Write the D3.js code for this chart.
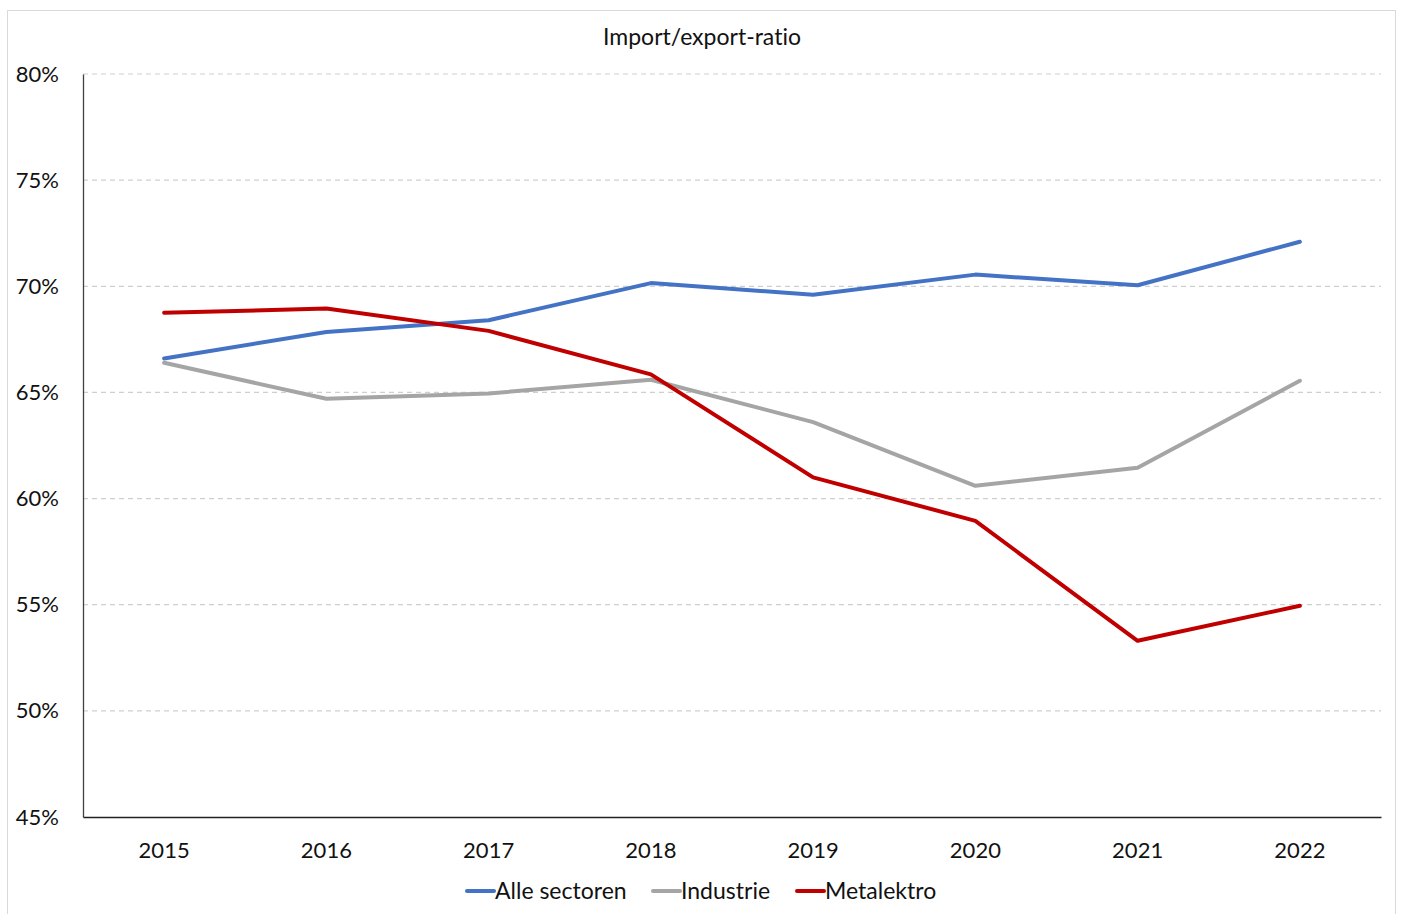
<!DOCTYPE html>
<html lang="nl">
<head>
  <meta charset="UTF-8">
  <title>Import/export-ratio</title>
  <style>
    body { margin: 0; background: #fff; }
    svg text { font-family: Lato, "Noto Sans", sans-serif; fill: #111; font-variant-ligatures: none; }
  </style>
</head>
<body>
  <svg id="svg" width="1402" height="914"></svg>

  <script src="https://d3js.org/d3.v7.min.js"></script>
  <script>
    const years = ['2015', '2016', '2017', '2018', '2019', '2020', '2021', '2022']
    const alleSectoren = [66.6, 67.85, 68.4, 70.15, 69.6, 70.55, 70.05, 72.1]
    const industrie = [66.4, 64.7, 64.95, 65.6, 63.6, 60.6, 61.45, 65.55]
    const metalektro = [68.75, 68.95, 67.9, 65.85, 61.0, 58.95, 53.3, 54.95]
    const yTicks = [45, 50, 55, 60, 65, 70, 75, 80]

    const series = [
      { name: 'Alle sectoren', values: alleSectoren, color: '#4472c4' },
      { name: 'Industrie', values: industrie, color: '#a5a5a5' },
      { name: 'Metalektro', values: metalektro, color: '#c00000' }
    ]

    const svg = d3.select('#svg')

    // outer frame
    svg.append('rect')
      .attr('x', 7.5).attr('y', 10.5)
      .attr('width', 1388).attr('height', 920)
      .attr('fill', 'none')
      .attr('stroke', '#d9d9d9')

    const plotLeft = 83, plotRight = 1381, plotTop = 74, plotBottom = 817

    const xScale = d3.scaleBand()
      .domain(years)
      .range([plotLeft, plotRight])

    const yScale = d3.scaleLinear()
      .domain([45, 80])
      .range([plotBottom, plotTop])

    // gridlines
    svg.append('g')
      .selectAll('line')
      .data(yTicks.filter(d => d > 45))
      .enter()
      .append('line')
      .attr('x1', plotLeft).attr('x2', plotRight)
      .attr('y1', d => yScale(d)).attr('y2', d => yScale(d))
      .attr('stroke', '#cfcfcf')
      .attr('stroke-width', 1.2)
      .attr('stroke-dasharray', '5,4')

    // y axis
    const yAxis = svg.append('g')
      .attr('transform', `translate(${plotLeft},0)`)
      .call(d3.axisLeft(yScale).tickValues(yTicks).tickSize(0).tickFormat(d => d + '%'))
    yAxis.select('.domain').attr('stroke', '#404040').attr('stroke-width', 1.3)
    yAxis.selectAll('text')
      .attr('x', -24)
      .style('font-size', '22px')
      .style('fill', '#111')

    // x axis
    const xAxis = svg.append('g')
      .attr('transform', `translate(0,${plotBottom})`)
      .call(d3.axisBottom(xScale).tickSize(0))
    xAxis.select('.domain').attr('stroke', '#222').attr('stroke-width', 1.3)
    xAxis.selectAll('text')
      .attr('dy', '0')
      .attr('y', 41)
      .style('font-size', '22px')
      .style('fill', '#111')

    // lines
    const line = d3.line()
      .x((d, i) => xScale(years[i]) + xScale.bandwidth() / 2)
      .y(d => yScale(d))

    svg.append('g')
      .selectAll('path')
      .data(series)
      .enter()
      .append('path')
      .attr('d', d => line(d.values))
      .attr('fill', 'none')
      .attr('stroke', d => d.color)
      .attr('stroke-width', 4)
      .attr('stroke-linecap', 'round')
      .attr('stroke-linejoin', 'round')

    // title
    svg.append('text')
      .attr('x', 702).attr('y', 45)
      .attr('text-anchor', 'middle')
      .style('font-size', '23px')
      .text('Import/export-ratio')

    // legend
    const legendX = [467, 653, 797]
    const legend = svg.append('g')
      .selectAll('g')
      .data(series)
      .enter()
      .append('g')
      .attr('transform', (d, i) => `translate(${legendX[i]},891)`)
    legend.append('line')
      .attr('x1', 0).attr('x2', 27)
      .attr('stroke', d => d.color)
      .attr('stroke-width', 4)
      .attr('stroke-linecap', 'round')
    legend.append('text')
      .attr('x', 28).attr('y', 8)
      .style('font-size', '23px')
      .text(d => d.name)
  </script>
</body>
</html>
